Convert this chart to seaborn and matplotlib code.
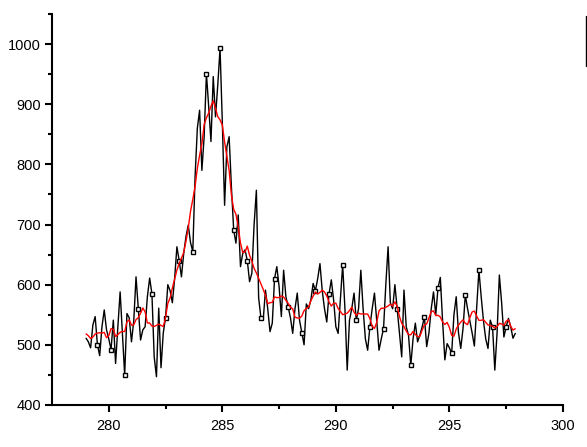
import numpy as np
import pandas as pd
import matplotlib
matplotlib.use('Agg')
import matplotlib.pyplot as plt
from matplotlib.lines import Line2D
import seaborn as sns

# binding energy grid (eV), 0.1 step
energy = np.round(np.arange(279.0, 297.95, 0.1), 1)

# counts, 10 per eV
counts = [
    511, 505, 495, 533, 547, 500, 482, 530, 558, 525,   # 279
    510, 492, 541, 469, 530, 588, 520, 450, 552, 545,   # 280
    505, 540, 613, 560, 508, 525, 530, 580, 611, 585,   # 281
    480, 447, 561, 462, 520, 545, 600, 590, 570, 610,   # 282
    663, 640, 613, 652, 680, 699, 670, 655, 779, 860,   # 283
    890, 790, 846, 951, 896, 838, 946, 879, 932, 993,   # 284
    870, 732, 829, 846, 763, 691, 669, 716, 630, 652,   # 285
    658, 640, 605, 619, 700, 757, 578, 545, 541, 591,   # 286
    560, 522, 536, 610, 630, 597, 547, 624, 580, 563,   # 287
    545, 519, 560, 586, 541, 520, 500, 568, 560, 575,   # 288
    602, 590, 610, 635, 590, 560, 538, 585, 608, 575,   # 289
    530, 519, 575, 633, 560, 458, 541, 560, 586, 541,   # 290
    560, 624, 560, 510, 491, 530, 560, 586, 540, 491,   # 291
    510, 527, 600, 663, 570, 560, 600, 560, 519, 480,   # 292
    591, 530, 516, 466, 510, 536, 505, 516, 530, 546,   # 293
    497, 520, 560, 588, 550, 595, 612, 540, 475, 502,   # 294
    495, 486, 550, 580, 520, 494, 527, 583, 560, 540,   # 295
    520, 498, 560, 624, 580, 540, 510, 494, 541, 530,   # 296
    458, 520, 616, 570, 513, 530, 544, 530, 511, 519,   # 297
]

df = pd.DataFrame({'energy': energy, 'counts': counts})
# adjacent averaging, like the red curve
df['smooth'] = df['counts'].rolling(9, center=True, min_periods=1).mean()

sns.set_style("ticks")
plt.rcParams['font.family'] = ['Liberation Sans', 'DejaVu Sans']

fig = plt.figure(figsize=(5.87, 4.47), dpi=100)
ax = fig.add_axes([0.0886, 0.094, 0.8704, 0.8747])

sns.lineplot(data=df, x='energy', y='counts', ax=ax, color='black', lw=1,
             marker='s', markersize=3.5, markerfacecolor='white',
             markeredgecolor='black', markeredgewidth=1, markevery=(5, 6))
sns.lineplot(data=df, x='energy', y='smooth', ax=ax, color='red', lw=1)

ax.set_xlim(277.5, 300)
ax.set_ylim(400, 1050)
ax.set_xticks([280, 285, 290, 295, 300])
ax.set_xticks([282.5, 287.5, 292.5, 297.5], minor=True)
ax.set_yticks([400, 500, 600, 700, 800, 900, 1000])
ax.set_yticks([450, 550, 650, 750, 850, 950, 1050], minor=True)
ax.set_xlabel('')
ax.set_ylabel('')

for s in ['top', 'right']:
    ax.spines[s].set_visible(False)
for s in ['left', 'bottom']:
    ax.spines[s].set_linewidth(1.5)
    ax.spines[s].set_color('black')

ax.tick_params(which='major', direction='out', length=5, width=1.5,
               labelsize=10.5, colors='black')
ax.tick_params(axis='x', which='major', pad=5)
ax.tick_params(axis='y', which='major', pad=3)
ax.tick_params(which='minor', direction='out', length=3, width=1.5, colors='black')

# fragment of the legend frame at the right edge
fig.add_artist(Line2D([586 / 587, 586 / 587], [1 - 16 / 447, 1 - 66 / 447],
                      color='black', lw=1))

fig.savefig('out.png', dpi=100)
